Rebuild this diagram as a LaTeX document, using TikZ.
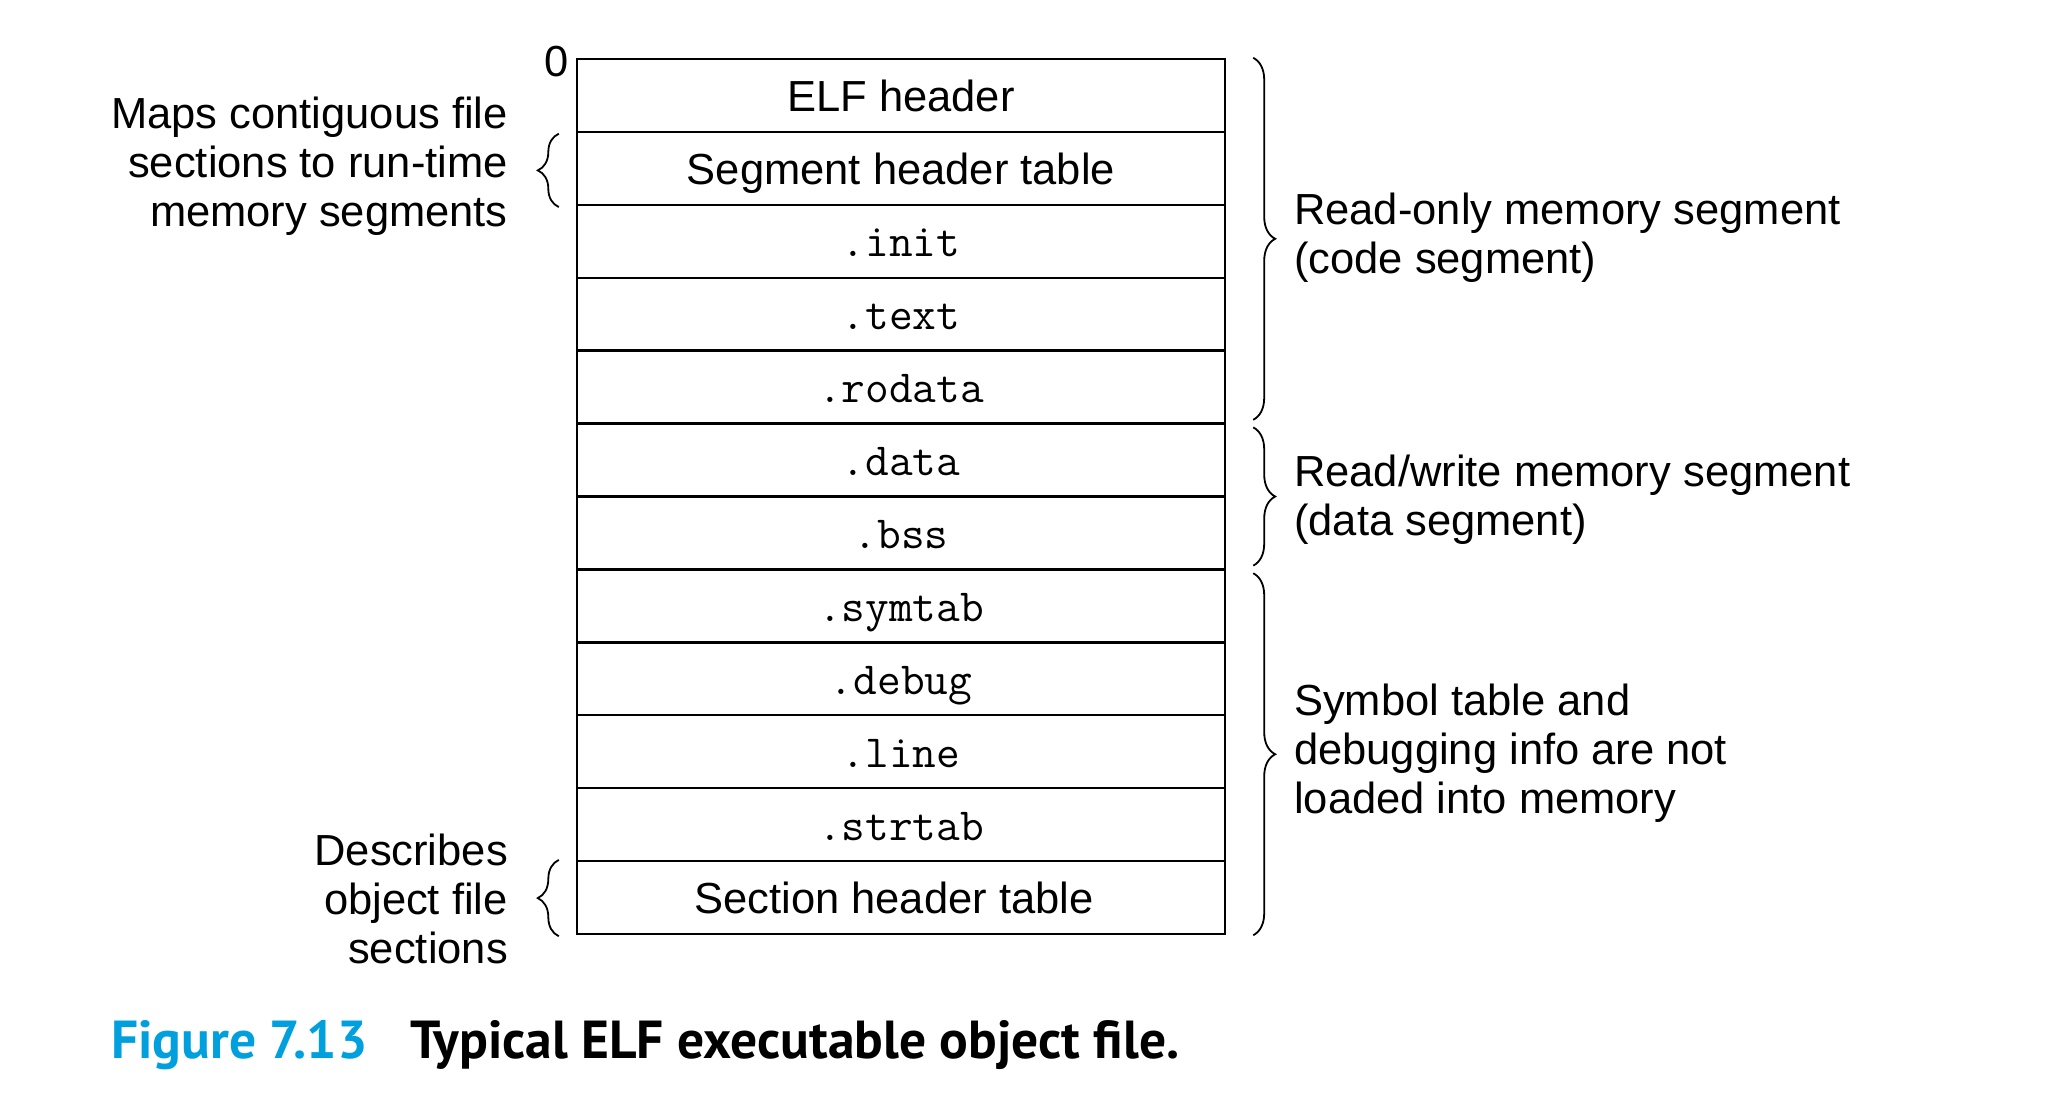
\documentclass[tikz,border=0pt]{standalone}
\usepackage{fontspec}
\setmainfont{Liberation Sans}
\newfontfamily\capfont{PT Sans}
\usetikzlibrary{decorations.pathreplacing,calc}
\definecolor{figblue}{RGB}{0,160,222}
\begin{document}
\begin{tikzpicture}[x=1pt,y=-1pt,
  row/.style={draw, line width=2.4pt, minimum width=648pt, minimum height=72.92pt, inner sep=0pt, text height=32pt, text depth=0pt, font=\fontsize{43.5}{49}\selectfont},
  ttrow/.style={row, text height=31pt, text depth=0pt, font=\ttfamily\addfontfeatures{FakeBold=0.7}\fontsize{46}{49}\selectfont},
  lab/.style={font=\fontsize{43.5}{49}\selectfont, inner sep=0pt},
  rbrc/.style={decorate, decoration={brace, amplitude=22pt}, line width=1.8pt},
  lbrc/.style={decorate, decoration={brace, amplitude=21pt}, line width=1.8pt}]
\fill[white] (0,0) rectangle (2052,1108);
\useasboundingbox (0,0) rectangle (2052,1108);
% rows
\node[row]   (r1)  at (901,  95.46) {ELF header};
\node[row]   (r2)  at (901, 168.38) {Segment header table};
\node[ttrow] (r3)  at (901, 241.30) {.init};
\node[ttrow] (r4)  at (901, 314.22) {.text};
\node[ttrow] (r5)  at (901, 387.14) {.rodata};
\node[ttrow] (r6)  at (901, 460.06) {.data};
\node[ttrow] (r7)  at (901, 532.98) {.bss};
\node[ttrow] (r8)  at (901, 605.90) {.symtab};
\node[ttrow] (r9)  at (901, 678.82) {.debug};
\node[ttrow] (r10) at (901, 751.74) {.line};
\node[ttrow] (r11) at (901, 824.66) {.strtab};
\node[row]   (r12) at (901, 897.58) {Section header table\hspace*{14pt}};
% zero
\node[lab] (zero) at (557,62) {0};
% right braces
\draw[rbrc] ([xshift=27pt]r1.north east) -- ([xshift=27pt,yshift=5pt]r5.south east);
\draw[rbrc] ([xshift=27pt,yshift=-5pt]r6.north east) -- ([xshift=27pt,yshift=5pt]r7.south east);
\draw[rbrc] ([xshift=27pt,yshift=-5pt]r8.north east) -- ([xshift=27pt]r12.south east);
% left braces
\draw[lbrc] ([xshift=-17pt,yshift=-1pt]r2.south west) -- ([xshift=-17pt,yshift=-3pt]r2.north west);
\draw[lbrc] ([xshift=-17pt,yshift=-1pt]r12.south west) -- ([xshift=-17pt,yshift=0pt]r12.north west);
% right labels
\node[lab, anchor=west, align=left] (ro) at (1294,238) {Read-only memory segment\\(code segment)};
\node[lab, anchor=west, align=left] (rw) at (1294,500) {Read/write memory segment\\(data segment)};
\node[lab, anchor=west, align=left] (sy) at (1294,753) {Symbol table and\\debugging info are not\\loaded into memory};
% left labels
\node[lab, anchor=east, align=right] (maps) at (508,166) {Maps contiguous file\\sections to run-time\\memory segments};
\node[lab, anchor=east, align=right] (desc) at (508,899) {Describes\\object file\\sections};
% caption
\node[anchor=west, inner sep=0pt, text=figblue, font=\capfont\bfseries\fontsize{53.5}{64}\selectfont] (fig) at (111,1045) {Figure 7.13};
\node[anchor=west, inner sep=0pt, font=\capfont\bfseries\fontsize{53.5}{64}\selectfont] (cap) at (410,1045) {Typical ELF executable object file.};
\end{tikzpicture}
\end{document}
